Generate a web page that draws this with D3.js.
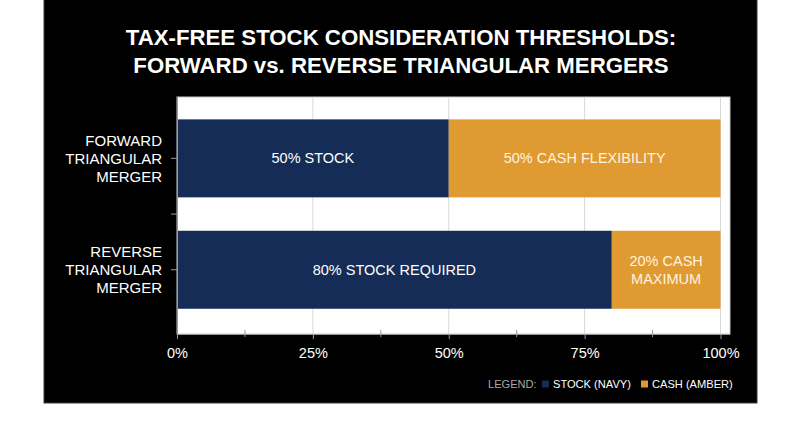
<!DOCTYPE html>
<html><head><meta charset="utf-8">
<script src="https://cdn.jsdelivr.net/npm/d3@7"></script>
<style>
html,body{margin:0;padding:0;background:#fff;}
svg{display:block;font-family:"Liberation Sans",Arial,Helvetica,sans-serif;}
</style></head>
<body>
<svg id="chart" width="800" height="447"></svg>
<script>
// ---- data ----
const titleLines = ["TAX-FREE STOCK CONSIDERATION THRESHOLDS:", "FORWARD vs. REVERSE TRIANGULAR MERGERS"];
const categories = ["Forward", "Reverse"];
const categoryLabels = [["FORWARD","TRIANGULAR","MERGER"],["REVERSE","TRIANGULAR","MERGER"]];
const stockValues = [50, 80];
const cashValues = [50, 20];
const stockLabels = [["50% STOCK"],["80% STOCK REQUIRED"]];
const cashLabels = [["50% CASH FLEXIBILITY"],["20% CASH","MAXIMUM"]];
const majorTicks = [0, 25, 50, 75, 100];
const minorTicks = [12.5, 37.5, 62.5, 87.5];
const legendItems = ["STOCK (NAVY)", "CASH (AMBER)"];

(function(){
const NAVY = "#152d56", AMBER = "#e09a32", CREAM = "#fff4df";

const svg = d3.select("#chart");
// panel
svg.append("rect").attr("x",44).attr("y",-1).attr("width",713).attr("height",404)
  .attr("fill","#000").attr("stroke","#3a3a3a").attr("stroke-width",1);

// title
const title = svg.append("g");
const t1 = title.append("text").attr("x",401).attr("y",45).attr("text-anchor","middle")
  .attr("fill","#fff").attr("font-weight","bold").attr("font-size",24).text(titleLines[0]);
let w = t1.node().getComputedTextLength();
const fs = 24*551/w;
t1.attr("font-size",fs);
title.append("text").attr("x",401).attr("y",73).attr("text-anchor","middle")
  .attr("fill","#fff").attr("font-weight","bold").attr("font-size",fs).text(titleLines[1]);

// plot
const pL=177, pR=730, pT=97, pB=334;
const x = d3.scaleLinear().domain([0,100]).range([pL,720.5]);
const y = d3.scaleBand().domain(categories).range([pT,pB]).paddingInner(0.3).paddingOuter(0.2137).align(0.47);

svg.append("rect").attr("x",pL).attr("y",pT).attr("width",pR-pL).attr("height",pB-pT)
  .attr("fill","#fff").attr("stroke","#c8c8c8").attr("stroke-width",1);

// gridlines
svg.append("g").selectAll("line").data(majorTicks.slice(1)).join("line")
  .attr("x1",d=>x(d)).attr("x2",d=>x(d)).attr("y1",pT).attr("y2",pB)
  .attr("stroke","#d9d9d9").attr("stroke-width",1);

// bars
const rows = categories.map((c,i)=>({c,i,stock:stockValues[i],cash:cashValues[i]}));
svg.append("g").selectAll("rect").data(rows).join("rect")
  .attr("x",x(0)).attr("y",d=>y(d.c)).attr("width",d=>x(d.stock)-x(0)).attr("height",y.bandwidth())
  .attr("fill",NAVY);
svg.append("g").selectAll("rect").data(rows).join("rect")
  .attr("x",d=>x(d.stock)).attr("y",d=>y(d.c)).attr("width",d=>x(d.stock+d.cash)-x(d.stock)).attr("height",y.bandwidth())
  .attr("fill",AMBER);

// bar labels
function multiLine(g, lines, cx, cy, fill){
  const lh = 18;
  const t = g.append("text").attr("text-anchor","middle").attr("fill",fill).attr("font-size",14.5);
  lines.forEach((l,k)=>{
    t.append("tspan").attr("x",cx).attr("y",cy + (k-(lines.length-1)/2)*lh).attr("dy","0.35em").text(l);
  });
}
const lbl = svg.append("g");
rows.forEach(d=>{
  const cy = y(d.c)+y.bandwidth()/2;
  multiLine(lbl, stockLabels[d.i], (x(0)+x(d.stock))/2, cy, "#fff");
  multiLine(lbl, cashLabels[d.i], (x(d.stock)+x(d.stock+d.cash))/2, cy, CREAM);
});

// y axis
const yAxis = svg.append("g").attr("transform",`translate(${pL},0)`)
  .call(d3.axisLeft(y).tickSize(6).tickFormat(""));
yAxis.select(".domain").attr("stroke","#9a9a9a").attr("d",`M0.5,${pT}V${pB}`);
yAxis.selectAll(".tick line").attr("stroke","#9a9a9a");
const midY = (y(categories[0])+y.bandwidth()/2 + y(categories[1])+y.bandwidth()/2)/2;
yAxis.append("line").attr("x1",-6).attr("x2",0).attr("y1",midY).attr("y2",midY).attr("stroke","#9a9a9a");
const catG = svg.append("g");
categories.forEach((c,i)=>{
  const cy = y(c)+y.bandwidth()/2;
  const t = catG.append("text").attr("text-anchor","end").attr("fill","#fff").attr("font-size",15);
  categoryLabels[i].forEach((l,k)=>{
    t.append("tspan").attr("x",162).attr("y",cy+(k-1)*18).attr("dy","0.35em").text(l);
  });
});

// x axis
const xAxis = svg.append("g").attr("transform",`translate(0,${pB})`)
  .call(d3.axisBottom(x).tickValues(majorTicks).tickSize(5).tickPadding(9).tickFormat(d=>d+"%"));
xAxis.select(".domain").attr("stroke","#9a9a9a").attr("d",`M${pL},0.5H${pR}`);
xAxis.selectAll(".tick line").attr("stroke","#9a9a9a");
xAxis.selectAll(".tick text").attr("fill","#fff").attr("font-size",14.5)
  .attr("font-family","'Liberation Sans',Arial,sans-serif");
svg.append("g").selectAll("line").data(minorTicks).join("line")
  .attr("x1",d=>x(d)).attr("x2",d=>x(d)).attr("y1",pB-4).attr("y2",pB+3)
  .attr("stroke","#9a9a9a");

// legend
const lg = svg.append("g").attr("font-size",11.1);
const ly = 384;
lg.append("text").attr("x",488).attr("y",ly).attr("dy","0.35em").attr("fill","#a8a8a8").text("LEGEND:");
lg.append("rect").attr("x",542).attr("y",ly-3.5).attr("width",7).attr("height",7).attr("fill",NAVY);
lg.append("text").attr("x",553).attr("y",ly).attr("dy","0.35em").attr("fill","#fff").text(legendItems[0]);
lg.append("rect").attr("x",641).attr("y",ly-3.5).attr("width",7).attr("height",7).attr("fill",AMBER);
lg.append("text").attr("x",652).attr("y",ly).attr("dy","0.35em").attr("fill","#fff").text(legendItems[1]);
})();
</script>
</body></html>
